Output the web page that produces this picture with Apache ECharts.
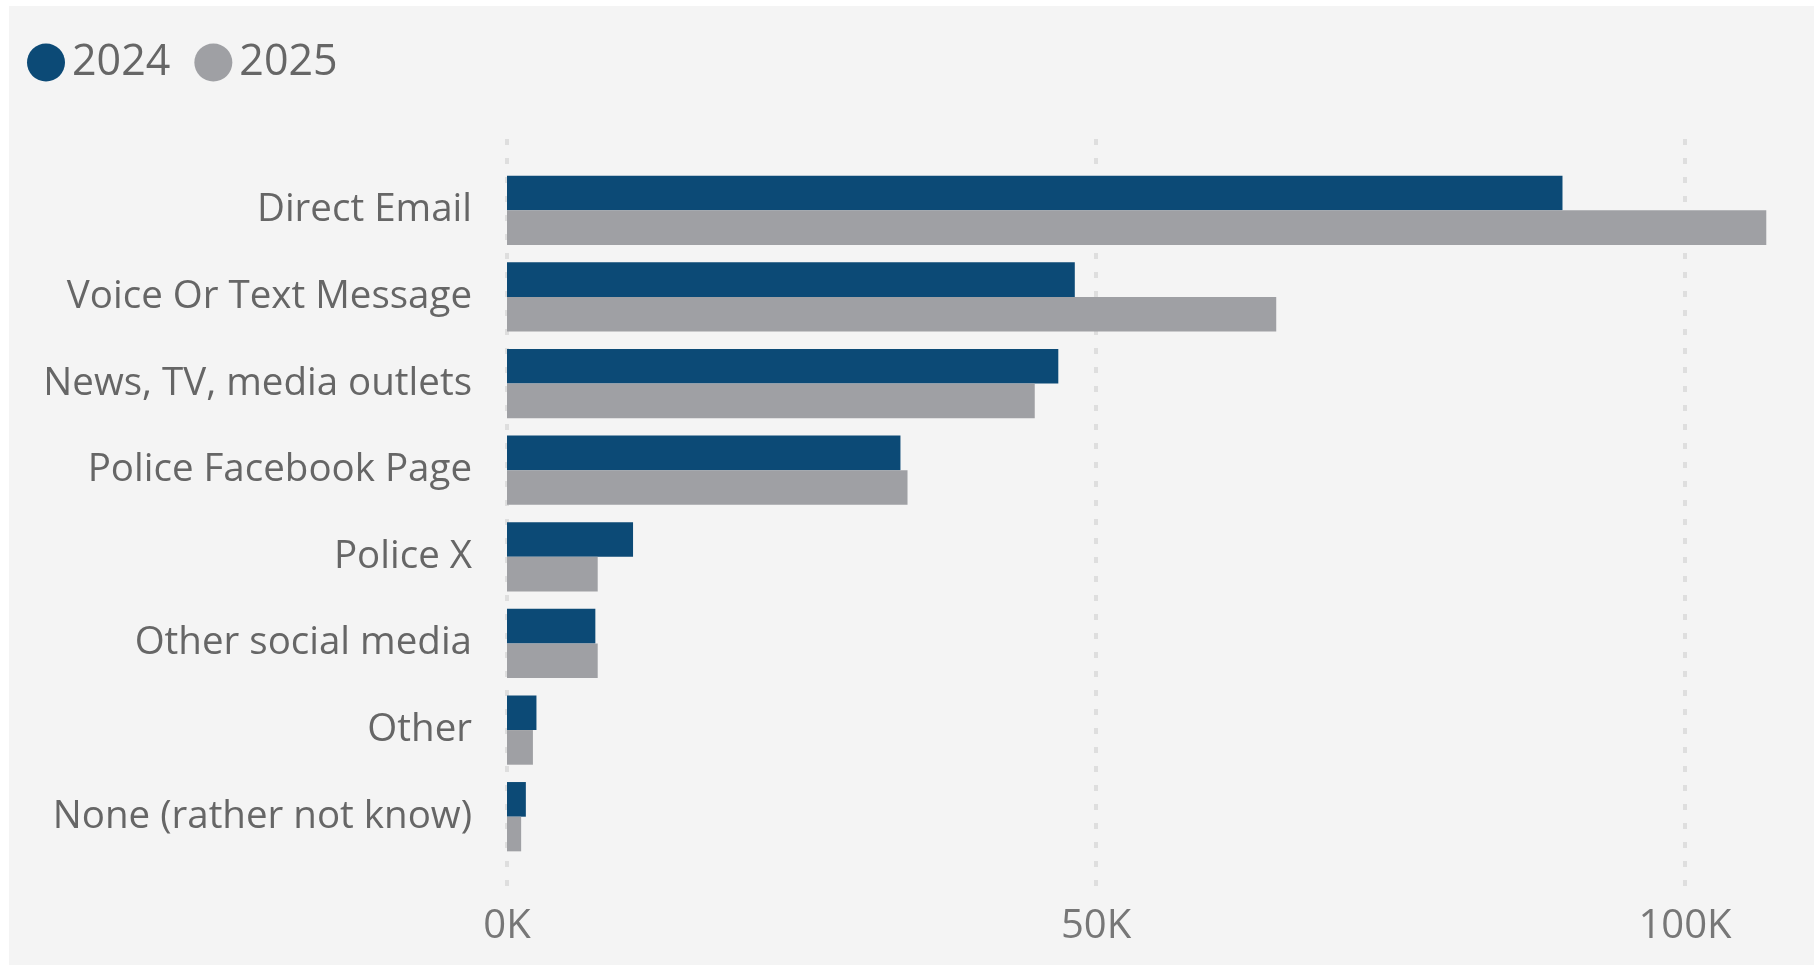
<!DOCTYPE html>
<html>
<head>
<meta charset="utf-8">
<script src="https://cdn.jsdelivr.net/npm/echarts@6/dist/echarts.min.js"></script>
<style>
html,body{margin:0;padding:0;background:#ffffff;width:1814px;height:965px;overflow:hidden;}
#bg{position:absolute;left:9px;top:6px;width:1805px;height:959px;background:#f4f4f4;}
#c{position:absolute;left:0;top:0;width:1814px;height:965px;}
</style>
</head>
<body>
<div id="bg"></div>
<div id="c"></div>
<script>
const categories = ["Direct Email","Voice Or Text Message","News, TV, media outlets","Police Facebook Page","Police X","Other social media","Other","None (rather not know)"];
const seriesNames = ["2024","2025"];
const values2024 = [89600, 48200, 46800, 33400, 10700, 7500, 2500, 1600];
const values2025 = [106900, 65300, 44800, 34000, 7700, 7700, 2200, 1200];
const xTicks = [0, 50000, 100000];

const FONT = "'Open Sans', 'Noto Sans', sans-serif";
const chart = echarts.init(document.getElementById('c'), null, {renderer:'canvas'});
const AXMAX = 110000;
const pxPer50K = 589;
const gridWidth = pxPer50K * AXMAX / 50000;

chart.setOption({
  backgroundColor: 'transparent',
  animation: false,
  textStyle: {fontFamily: FONT},
  legend: {
    data: seriesNames,
    left: 22, top: 36,
    icon: 'circle',
    itemWidth: 38, itemHeight: 38,
    itemGap: 24,
    textStyle: {fontSize: 43, color: '#666666', fontFamily: FONT, padding: [2,0,0,2]}
  },
  grid: [
    {left: 507, top: 167, width: gridWidth, height: 693},
    {left: 507, top: 139, width: gridWidth, height: 750}
  ],
  xAxis: [
    {gridIndex: 0, type: 'value', min: 0, max: AXMAX, show: false, splitLine: {show: false}},
    {gridIndex: 1, type: 'value', min: 0, max: AXMAX, interval: 50000,
      axisLine: {show: false}, axisTick: {show: false},
      splitLine: {show: true, showMaxLine: false, lineStyle: {color: '#dedede', width: 4, type: [6, 13]}},
      axisLabel: {
        fontSize: 40, color: '#777777', fontFamily: FONT, margin: 18, showMaxLabel: false,
        formatter: function (v) { return xTicks.indexOf(v) >= 0 ? (v / 1000) + 'K' : ''; }
      }
    }
  ],
  yAxis: [
    {gridIndex: 0, type: 'category', data: categories, inverse: true,
      axisLine: {show: false}, axisTick: {show: false}, splitLine: {show: false},
      axisLabel: {fontSize: 38.5, color: '#666666', fontFamily: FONT, margin: 35, padding: [10,0,0,0]}
    },
    {gridIndex: 1, type: 'value', min: 0, max: 1, show: false}
  ],
  series: [
    {name: seriesNames[0], type: 'bar', xAxisIndex: 0, yAxisIndex: 0, data: values2024,
      barGap: '0%', barCategoryGap: '20%',
      itemStyle: {color: '#0c4a76'}},
    {name: seriesNames[1], type: 'bar', xAxisIndex: 0, yAxisIndex: 0, data: values2025,
      barGap: '0%', barCategoryGap: '20%',
      itemStyle: {color: '#9fa0a4'}}
  ],
  color: ['#0c4a76', '#9fa0a4']
});
</script>
</body>
</html>
